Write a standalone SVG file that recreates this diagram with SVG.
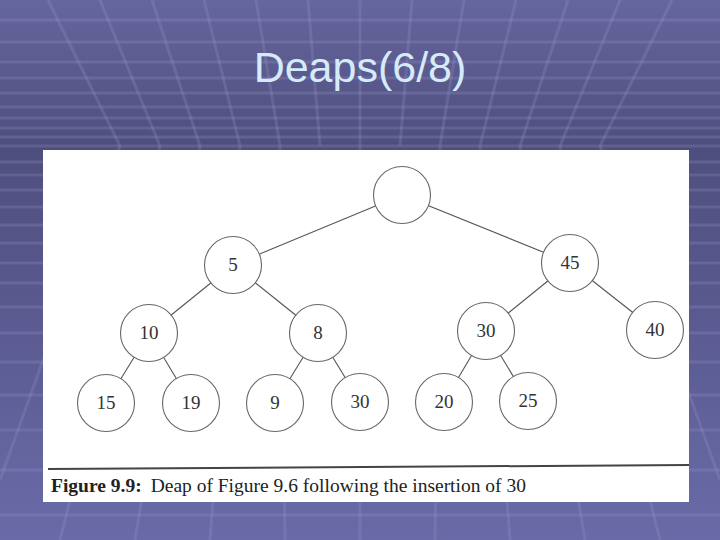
<svg xmlns="http://www.w3.org/2000/svg" width="720" height="540" viewBox="0 0 720 540">
<defs>
<linearGradient id="bg" x1="0" y1="0" x2="0" y2="1">
<stop offset="0" stop-color="#66669e"/>
<stop offset="0.27" stop-color="#4e4e7e"/>
<stop offset="1" stop-color="#6a6aa8"/>
</linearGradient>
<style>
.grid line{stroke:#9a9acc;stroke-opacity:0.24;stroke-width:3}
.edge{stroke:#555;stroke-width:1.1;fill:none}
.node circle{fill:#fff;stroke:#666;stroke-width:1.1}
.node text{font-family:"Liberation Serif",serif;font-size:19px;fill:#333;text-anchor:middle}
</style>
</defs>
<rect width="720" height="540" fill="url(#bg)"/>
<g class="grid">
<line x1="0" y1="20" x2="720" y2="20"/>
<line x1="0" y1="42" x2="720" y2="42"/>
<line x1="0" y1="62" x2="720" y2="62"/>
<line x1="0" y1="78" x2="720" y2="78"/>
<line x1="0" y1="93" x2="720" y2="93"/>
<line x1="0" y1="107" x2="720" y2="107"/>
<line x1="0" y1="118" x2="720" y2="118"/>
<line x1="0" y1="128" x2="720" y2="128"/>
<line x1="0" y1="137" x2="720" y2="137"/>
<line x1="0" y1="146" x2="720" y2="146"/>
<line x1="0" y1="162" x2="720" y2="162"/>
<line x1="0" y1="175" x2="720" y2="175"/>
<line x1="0" y1="190" x2="720" y2="190"/>
<line x1="0" y1="207" x2="720" y2="207"/>
<line x1="0" y1="225" x2="720" y2="225"/>
<line x1="0" y1="243" x2="720" y2="243"/>
<line x1="0" y1="263" x2="720" y2="263"/>
<line x1="0" y1="283" x2="720" y2="283"/>
<line x1="0" y1="307" x2="720" y2="307"/>
<line x1="0" y1="333" x2="720" y2="333"/>
<line x1="0" y1="362" x2="720" y2="362"/>
<line x1="0" y1="395" x2="720" y2="395"/>
<line x1="0" y1="430" x2="720" y2="430"/>
<line x1="0" y1="470" x2="720" y2="470"/>
<line x1="0" y1="515" x2="720" y2="515"/>
<line x1="48" y1="0" x2="120" y2="146"/><line x1="120" y1="146" x2="0" y2="480"/>
<line x1="100" y1="0" x2="160" y2="146"/><line x1="160" y1="146" x2="60" y2="540"/>
<line x1="152" y1="0" x2="200" y2="146"/><line x1="200" y1="146" x2="135" y2="540"/>
<line x1="204" y1="0" x2="240" y2="146"/><line x1="240" y1="146" x2="210" y2="540"/>
<line x1="256" y1="0" x2="280" y2="146"/><line x1="280" y1="146" x2="285" y2="540"/>
<line x1="308" y1="0" x2="320" y2="146"/>
<line x1="360" y1="0" x2="360" y2="540"/>
<line x1="412" y1="0" x2="400" y2="146"/>
<line x1="464" y1="0" x2="440" y2="146"/><line x1="440" y1="146" x2="435" y2="540"/>
<line x1="516" y1="0" x2="480" y2="146"/><line x1="480" y1="146" x2="510" y2="540"/>
<line x1="568" y1="0" x2="520" y2="146"/><line x1="520" y1="146" x2="585" y2="540"/>
<line x1="620" y1="0" x2="560" y2="146"/><line x1="560" y1="146" x2="660" y2="540"/>
<line x1="672" y1="0" x2="600" y2="146"/><line x1="600" y1="146" x2="720" y2="480"/>
</g>
<text x="360" y="82" font-family="Liberation Sans,Arial,sans-serif" font-size="43" fill="#d6ebfa" text-anchor="middle">Deaps(6/8)</text>
<rect x="43" y="150" width="646" height="352" fill="#fff"/>
<g id="connectors">
<line class="edge" x1="402" y1="195" x2="233" y2="265"/>
<line class="edge" x1="402" y1="195" x2="570" y2="263"/>
<line class="edge" x1="233" y1="265" x2="149" y2="333"/>
<line class="edge" x1="233" y1="265" x2="318" y2="333"/>
<line class="edge" x1="570" y1="263" x2="486" y2="331"/>
<line class="edge" x1="570" y1="263" x2="655" y2="330"/>
<line class="edge" x1="149" y1="333" x2="106" y2="403"/>
<line class="edge" x1="149" y1="333" x2="191" y2="403"/>
<line class="edge" x1="318" y1="333" x2="275" y2="403"/>
<line class="edge" x1="318" y1="333" x2="360" y2="402"/>
<line class="edge" x1="486" y1="331" x2="444" y2="402"/>
<line class="edge" x1="486" y1="331" x2="528" y2="401"/>
</g>
<g id="n-root" class="node"><circle cx="402" cy="195" r="28.5"/></g>
<g id="n-5" class="node"><circle cx="233" cy="265" r="28.5"/><text x="233" y="271">5</text></g>
<g id="n-45" class="node"><circle cx="570" cy="263" r="28.5"/><text x="570" y="269">45</text></g>
<g id="n-10" class="node"><circle cx="149" cy="333" r="28.5"/><text x="149" y="339">10</text></g>
<g id="n-8" class="node"><circle cx="318" cy="333" r="28.5"/><text x="318" y="339">8</text></g>
<g id="n-30a" class="node"><circle cx="486" cy="331" r="28.5"/><text x="486" y="337">30</text></g>
<g id="n-40" class="node"><circle cx="655" cy="330" r="28.5"/><text x="655" y="336">40</text></g>
<g id="n-15" class="node"><circle cx="106" cy="403" r="28.5"/><text x="106" y="409">15</text></g>
<g id="n-19" class="node"><circle cx="191" cy="403" r="28.5"/><text x="191" y="409">19</text></g>
<g id="n-9" class="node"><circle cx="275" cy="403" r="28.5"/><text x="275" y="409">9</text></g>
<g id="n-30b" class="node"><circle cx="360" cy="402" r="28.5"/><text x="360" y="408">30</text></g>
<g id="n-20" class="node"><circle cx="444" cy="402" r="28.5"/><text x="444" y="408">20</text></g>
<g id="n-25" class="node"><circle cx="528" cy="401" r="28.5"/><text x="528" y="407">25</text></g>
<line x1="48" y1="469" x2="689" y2="465" stroke="#444" stroke-width="2"/>
<text x="51" y="492" font-family="Liberation Serif,serif" font-size="19.5" fill="#222"><tspan font-weight="bold">Figure 9.9:</tspan><tspan dx="9">Deap of Figure 9.6 following the insertion of 30</tspan></text>
</svg>
